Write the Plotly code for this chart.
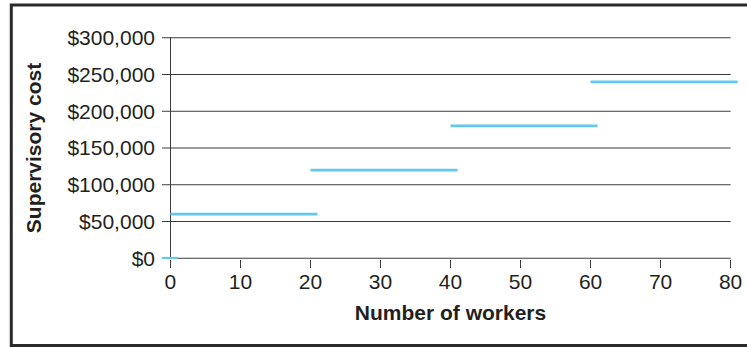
import plotly.graph_objects as go

# Step-cost schedule: one supervisor's salary is added for every 20 workers
seg_start = [-1.2, 0, 20, 40, 60]
seg_end = [1, 21, 41, 61, 81]
cost = [0, 60000, 120000, 180000, 240000]

x_ticks = [0, 10, 20, 30, 40, 50, 60, 70, 80]
y_ticks = [0, 50000, 100000, 150000, 200000, 250000, 300000]
y_tick_text = ["$0", "$50,000", "$100,000", "$150,000", "$200,000", "$250,000", "$300,000"]

X_MIN, X_MAX = -1.2, 81.2
GRID_END = 80

xs, ys = [], []
for a, b, c in zip(seg_start, seg_end, cost):
    xs += [a, b, None]
    ys += [c, c, None]

fig = go.Figure()
fig.add_trace(go.Scatter(
    x=xs, y=ys, mode="lines",
    line=dict(color="#62c8f1", width=2.8),
    hoverinfo="skip", showlegend=False,
))

# Horizontal rules that stop at the last x tick
shapes = []
for v in y_ticks:
    shapes.append(dict(
        type="line", xref="x", yref="y",
        x0=X_MIN, x1=GRID_END, y0=v, y1=v,
        line=dict(color="#3c3c3c", width=1.2), layer="below",
    ))

# Frame around the whole figure
L, R, T, B = 162, 5, 37, 88
W, H = 747, 347
pw, ph = W - L - R, H - T - B
shapes.append(dict(
    type="rect", xref="paper", yref="paper",
    x0=(10.5 - L) / pw, x1=(752 - L) / pw,
    y0=((H - B) - 345.5) / ph, y1=((H - B) - 5) / ph,
    line=dict(color="#2b2b2b", width=3), fillcolor="rgba(0,0,0,0)",
))

font_family = "Liberation Sans, Arial, sans-serif"
fig.update_layout(
    width=W, height=H,
    margin=dict(l=L, r=R, t=T, b=B, pad=0),
    paper_bgcolor="white", plot_bgcolor="white",
    font=dict(family=font_family, size=21, color="#231f20"),
    shapes=shapes,
    xaxis=dict(
        range=[X_MIN, X_MAX],
        tickmode="array", tickvals=x_ticks,
        ticks="outside", ticklen=8, tickwidth=1.2, tickcolor="#3c3c3c",
        showgrid=False, showline=False,
        zeroline=True, zerolinecolor="#3c3c3c", zerolinewidth=1.2,
        ticklabelstandoff=-4,
        tickfont=dict(size=21),
        title=dict(text="<b>Number of workers</b>", font=dict(size=21), standoff=13),
        fixedrange=True,
    ),
    yaxis=dict(
        range=[-1000, 301000],
        tickmode="array", tickvals=y_ticks, ticktext=y_tick_text,
        ticks="", showgrid=False, showline=False, zeroline=False,
        ticklabelstandoff=6,
        tickfont=dict(size=21),
        title=dict(text="<b>Supervisory cost</b>", font=dict(size=21), standoff=20),
        fixedrange=True,
    ),
)

fig.write_html("out.html")
